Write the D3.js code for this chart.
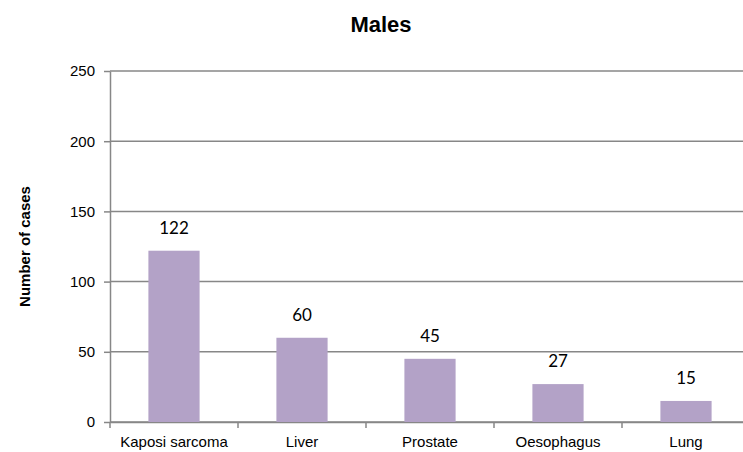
<!DOCTYPE html>
<html>
<head>
<meta charset="utf-8">
<script src="https://cdn.jsdelivr.net/npm/d3@7"></script>
<style>
  body { margin: 0; background: #fff; }
  svg { display: block; }
</style>
</head>
<body>
<div id="chart"></div>
<script>
// data
const categories = ["Kaposi sarcoma", "Liver", "Prostate", "Oesophagus", "Lung"];
const cases = [122, 60, 45, 27, 15];
const yTicks = [0, 50, 100, 150, 200, 250];

const width = 743;
const height = 452;

// plot area (right side runs off the picture, like the reference)
const plotLeft = 110;
const plotRight = 750;
const plotTop = 71;
const plotBottom = 422;

const gridColor = "#878787";
const barColor = "#b3a2c7";

const svg = d3.select("#chart").append("svg")
  .attr("width", width)
  .attr("height", height);

const x = d3.scaleBand()
  .domain(categories)
  .range([plotLeft, plotRight])
  .padding(0);

const y = d3.scaleLinear()
  .domain([0, 250])
  .range([plotBottom, plotTop]);

// horizontal gridlines
svg.append("g")
  .selectAll("line")
  .data(yTicks)
  .join("line")
    .attr("x1", plotLeft)
    .attr("x2", plotRight)
    .attr("y1", d => y(d))
    .attr("y2", d => y(d))
    .attr("stroke", gridColor)
    .attr("stroke-width", 1.5);

// y axis
const yAxis = svg.append("g")
  .attr("transform", `translate(${plotLeft},0)`)
  .call(d3.axisLeft(y).tickValues(yTicks).tickSize(6).tickPadding(9).tickSizeOuter(0));
yAxis.select(".domain").attr("stroke", gridColor).attr("stroke-width", 1.5);
yAxis.selectAll(".tick line").attr("stroke", gridColor).attr("stroke-width", 1.5);
yAxis.selectAll(".tick text")
  .attr("fill", "#000")
  .style("font-family", "'Liberation Sans', Arial, sans-serif")
  .style("font-size", "15px");

// x axis
const xAxis = svg.append("g")
  .attr("transform", `translate(0,${plotBottom})`)
  .call(d3.axisBottom(x).tickSize(0).tickPadding(14).tickSizeOuter(0));
xAxis.select(".domain").attr("stroke", gridColor).attr("stroke-width", 1.5);
xAxis.selectAll(".tick text")
  .attr("fill", "#000")
  .style("font-family", "'Liberation Sans', Arial, sans-serif")
  .style("font-size", "15px");

// small tick marks between the categories
svg.append("g")
  .selectAll("line")
  .data(categories)
  .join("line")
    .attr("x1", d => x(d))
    .attr("x2", d => x(d))
    .attr("y1", plotBottom)
    .attr("y2", plotBottom + 6)
    .attr("stroke", gridColor)
    .attr("stroke-width", 1.5);

// bars
const barW = x.bandwidth() * 0.4;
svg.append("g")
  .selectAll("rect")
  .data(cases)
  .join("rect")
    .attr("x", (d, i) => x(categories[i]) + (x.bandwidth() - barW) / 2)
    .attr("width", barW)
    .attr("y", d => y(d))
    .attr("height", d => y(0) - y(d))
    .attr("fill", barColor);

// value labels
svg.append("g")
  .selectAll("text")
  .data(cases)
  .join("text")
    .attr("x", (d, i) => x(categories[i]) + x.bandwidth() / 2)
    .attr("y", d => y(d) - 17)
    .attr("text-anchor", "middle")
    .style("font-family", "Lato, 'Open Sans', sans-serif")
    .style("font-size", "17px")
    .text(d => d);

// title
svg.append("text")
  .attr("x", 381)
  .attr("y", 32)
  .attr("text-anchor", "middle")
  .style("font-family", "'Liberation Sans', Arial, sans-serif")
  .style("font-weight", "bold")
  .style("font-size", "22px")
  .text("Males");

// y axis title
svg.append("text")
  .attr("transform", `translate(30,${(plotTop + plotBottom) / 2}) rotate(-90)`)
  .attr("text-anchor", "middle")
  .style("font-family", "'Liberation Sans', Arial, sans-serif")
  .style("font-weight", "bold")
  .style("font-size", "15px")
  .text("Number of cases");
</script>
</body>
</html>
